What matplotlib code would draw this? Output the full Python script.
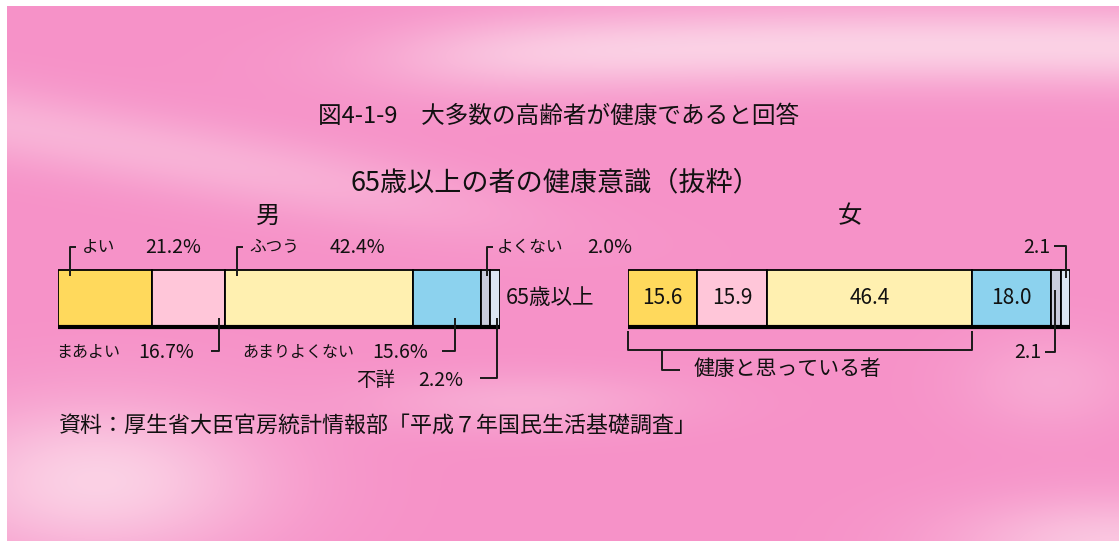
import numpy as np
import matplotlib
matplotlib.use("Agg")
import matplotlib.pyplot as plt

plt.rcParams['font.family'] = ['Noto Sans CJK JP', 'DejaVu Sans']

# ---------------- data ----------------
categories = ["よい", "まあよい", "ふつう", "あまりよくない", "よくない", "不詳"]
male = [21.2, 16.7, 42.4, 15.6, 2.0, 2.2]
female = [15.6, 15.9, 46.4, 18.0, 2.1, 2.1]
row_label = "65歳以上"
healthy_label = "健康と思っている者"
colors = ["#FFD95C", "#FFC6D9", "#FFF0B0", "#8CD2EE", "#C9CCDD", "#DCE6F2"]

W, H = 1119, 541
fig = plt.figure(figsize=(W / 100, H / 100), dpi=100)
fig.patch.set_facecolor("white")

# ---------------- background ----------------
ax_bg = fig.add_axes([0, 0, 1, 1])
ax_bg.set_xlim(0, W)
ax_bg.set_ylim(H, 0)
ax_bg.axis("off")
yy, xx = np.mgrid[0:H, 0:W].astype(float)
f = np.zeros((H, W))
f += 0.85 * np.exp(-((yy - (40 + 0.00004 * (xx - 950) ** 2)) / 40) ** 2) / (1 + np.exp(-(xx - 420) / 60))
f += 0.45 * np.exp(-((yy - (120 + 0.18 * xx)) / 40) ** 2) / (1 + np.exp((xx - 450) / 80))
f += 0.85 * np.exp(-(((xx - 90) / 170) ** 2 + ((yy - 480) / 80) ** 2))
f += 0.70 * np.exp(-(((xx - 1110) / 160) ** 2 + ((yy - 545) / 50) ** 2))
f += 0.35 * np.exp(-(((xx - 520) / 160) ** 2 + ((yy - 400) / 30) ** 2))
f += 0.30 * np.exp(-(((xx - 1050) / 90) ** 2 + ((yy - 380) / 50) ** 2))
f = np.clip(f, 0, 1)
base = np.array([246, 146, 200]) / 255
light = np.array([252, 220, 234]) / 255
img = base[None, None, :] * (1 - f[..., None]) + light[None, None, :] * f[..., None]
ax_bg.imshow(img, extent=(7, W, H, 6), aspect="auto", zorder=0)

LC = "#1a1a1a"
TC = "#111111"


def line(ax, xs, ys, lw=1.4):
    ax.plot(xs, ys, color=LC, lw=lw, solid_capstyle="butt", clip_on=False, zorder=5)


def stacked(x0, x1, vals):
    ax = fig.add_axes([x0 / W, 1 - 400 / H, (x1 - x0) / W, 170 / H])
    total = sum(vals)
    ax.set_xlim(0, total)
    ax.set_ylim(400, 230)
    ax.axis("off")
    ax.patch.set_alpha(0)
    lefts = np.concatenate([[0], np.cumsum(vals)[:-1]])
    ax.barh([298.5] * len(vals), vals, left=lefts, height=57, color=colors,
            edgecolor="black", linewidth=1.3, zorder=3)
    ax.plot([0, total], [327, 327], color="black", lw=3, zorder=4, solid_capstyle="butt")
    px = lambda p: (p - x0) / (x1 - x0) * total
    return ax, lefts, px


# ---------------- titles ----------------
ax_bg.text(559, 116, "図4-1-9　大多数の高齢者が健康であると回答", ha="center", va="center",
           fontsize=17, color=TC)
ax_bg.text(555, 183, "65歳以上の者の健康意識（抜粋）", ha="center", va="center",
           fontsize=19.5, color=TC)
ax_bg.text(268, 216, "男", ha="center", va="center", fontsize=17.5, color=TC)
ax_bg.text(850, 216, "女", ha="center", va="center", fontsize=17.5, color=TC)
ax_bg.text(550, 298, row_label, ha="center", va="center", fontsize=15.5, color=TC)
ax_bg.text(59, 426, "資料：厚生省大臣官房統計情報部「平成７年国民生活基礎調査」", ha="left",
           va="center", fontsize=15.8, color=TC)

# ---------------- male bar ----------------
axm, lm, pxm = stacked(58, 500, male)
TS = 11.5
VS = 14
# top labels: よい, ふつう, よくない
for idx, lead_x, cat_x, val_x in [(0, 70, 82, 145), (2, 237, 249, 330), (4, 487, 497, 587)]:
    lx = pxm(lead_x)
    line(axm, [lx, lx, pxm(lead_x + 6)], [276, 247, 247])
    axm.text(pxm(cat_x), 247, categories[idx], ha="left", va="center", fontsize=TS + 0.5, color=TC)
    axm.text(pxm(val_x), 247, f"{male[idx]:.1f}%", ha="left", va="center", fontsize=VS, color=TC)
# bottom labels: まあよい, あまりよくない
for idx, lead_x, h0, cat_x, val_x in [(1, 219, 211, 56, 138), (3, 455, 442, 242, 372)]:
    lx = pxm(lead_x)
    line(axm, [pxm(h0), lx, lx], [351, 351, 318])
    axm.text(pxm(cat_x), 352, categories[idx], ha="left", va="center", fontsize=TS, color=TC)
    axm.text(pxm(val_x), 352, f"{male[idx]:.1f}%", ha="left", va="center", fontsize=VS, color=TC)
# 不詳
lx = pxm(497)
line(axm, [pxm(480), lx, lx], [378, 378, 318])
axm.text(pxm(356), 380, categories[5], ha="left", va="center", fontsize=14, color=TC)
axm.text(pxm(418), 380, f"{male[5]:.1f}%", ha="left", va="center", fontsize=VS, color=TC)

# ---------------- female bar ----------------
axf, lf, pxf = stacked(628, 1070, female)
for i in range(4):
    axf.text(lf[i] + female[i] / 2, 298, f"{female[i]:.1f}", ha="center", va="center",
             fontsize=15, color=TC)
# small labels for よくない / 不詳
lx5 = lf[5] + female[5] * 0.55
line(axf, [pxf(1054), lx5, lx5], [246, 246, 278])
axf.text(pxf(1050), 247, f"{female[5]:.1f}", ha="right", va="center", fontsize=VS, color=TC)
lx4 = lf[4] + female[4] * 0.4
line(axf, [pxf(1045), lx4, lx4], [352, 352, 290])
axf.text(pxf(1041), 352, f"{female[4]:.1f}", ha="right", va="center", fontsize=VS, color=TC)
# bracket for healthy (first three segments)
end = lf[3]
line(axf, [0, 0, end, end], [331, 350, 350, 331])
bx = pxf(662)
line(axf, [bx, bx, pxf(680)], [350, 370, 370])
axf.text(pxf(694), 369, healthy_label, ha="left", va="center", fontsize=15, color=TC)

fig.savefig("out.png", dpi=100, facecolor="white")
